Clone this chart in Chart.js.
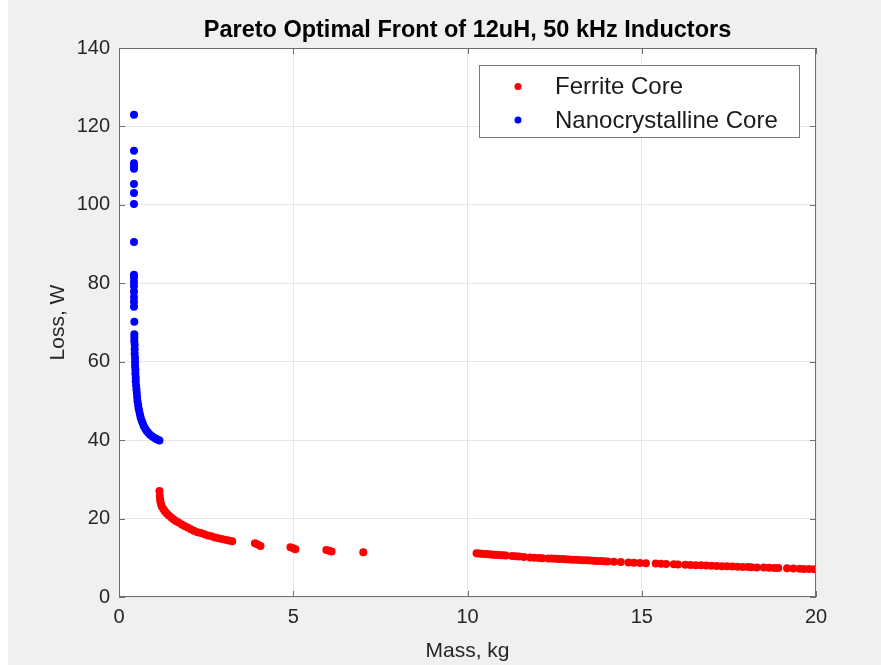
<!DOCTYPE html>
<html>
<head>
<meta charset="utf-8">
<title>Pareto Optimal Front of 12uH, 50 kHz Inductors</title>
<script src="https://cdn.jsdelivr.net/npm/chart.js@4.4.0/dist/chart.umd.min.js"></script>
<style>
  html, body { margin: 0; padding: 0; background: #ffffff; }
  #grafico { display: block; }
</style>
</head>
<body>
<canvas id="grafico" width="881" height="665"></canvas>
<script>
// dados (massa em kg, perda em W)
const ferriteMassa = [
  1.16, 1.17, 1.18, 1.19, 1.21, 1.24, 1.28, 1.32, 1.37, 1.43, 1.50, 1.56, 1.63, 1.71, 1.80, 1.88,
  1.97, 2.06, 2.15, 2.25, 2.35, 2.45, 2.55, 2.65, 2.75, 2.85, 2.95, 3.05, 3.15, 3.25,
  3.90, 3.98, 4.06, 4.92, 5.00, 5.06, 5.95, 6.03, 6.10, 7.01,
  10.26, 10.33, 10.40, 10.47, 10.54, 10.61, 10.68, 10.75, 10.82, 10.89, 10.96, 11.03, 11.10,
  11.28, 11.38, 11.48, 11.62, 11.80, 11.92, 12.05, 12.15,
  12.32, 12.42, 12.52, 12.62, 12.72, 12.82, 12.92, 13.02, 13.12, 13.22, 13.32, 13.42, 13.52,
  13.62, 13.72, 13.82, 13.92, 14.02, 14.20, 14.40, 14.62, 14.78, 14.95, 15.12, 15.40, 15.55,
  15.70, 15.92, 16.04, 16.25, 16.40, 16.55, 16.70, 16.85, 17.00, 17.15, 17.30, 17.45, 17.60,
  17.75, 17.90, 18.05, 18.15, 18.30, 18.50, 18.65, 18.80, 18.92, 19.17, 19.35, 19.53, 19.65,
  19.80, 19.95
];
const ferritePerda = [
  27.0, 25.8, 24.9, 24.2, 23.5, 22.9, 22.3, 21.8, 21.3, 20.8, 20.3, 19.8, 19.4, 19.0, 18.5, 18.1,
  17.7, 17.3, 16.9, 16.5, 16.3, 16.0, 15.7, 15.5, 15.2, 15.0, 14.8, 14.6, 14.4, 14.2,
  13.7, 13.4, 13.0, 12.7, 12.4, 12.2, 12.0, 11.8, 11.6, 11.4,
  11.14, 11.09, 11.04, 10.99, 10.94, 10.89, 10.84, 10.80, 10.75, 10.71, 10.66, 10.62, 10.57,
  10.46, 10.39, 10.32, 10.22, 10.09, 10.02, 9.96, 9.91,
  9.84, 9.79, 9.75, 9.70, 9.66, 9.61, 9.57, 9.52, 9.48, 9.43, 9.39, 9.34, 9.30,
  9.25, 9.21, 9.17, 9.12, 9.08, 9.00, 8.91, 8.81, 8.74, 8.68, 8.62, 8.52, 8.47,
  8.42, 8.34, 8.30, 8.23, 8.18, 8.12, 8.07, 8.02, 7.97, 7.91, 7.86, 7.81, 7.75,
  7.72, 7.67, 7.63, 7.60, 7.55, 7.50, 7.45, 7.41, 7.37, 7.30, 7.24, 7.19, 7.15,
  7.11, 7.06
];
const nanoMassa = [
  0.43, 0.43, 0.43, 0.43, 0.43, 0.43, 0.43, 0.43, 0.43, 0.43, 0.43, 0.43, 0.43, 0.43, 0.43,
  0.43, 0.43, 0.44, 0.44, 0.44, 0.44, 0.45, 0.45, 0.45, 0.46, 0.46, 0.46, 0.47, 0.47, 0.48,
  0.48, 0.49, 0.50, 0.51, 0.52, 0.53, 0.55, 0.56, 0.58, 0.60, 0.62, 0.65, 0.68, 0.71, 0.75,
  0.79, 0.84, 0.89, 0.95, 1.01, 1.07, 1.12, 1.16
];
const nanoPerda = [
  123.0, 113.8, 110.6, 109.8, 109.2, 105.3, 103.0, 100.2, 90.5, 82.2, 81.5, 80.4, 79.3, 77.9, 76.5,
  75.3, 74.0, 70.2, 67.0, 66.2, 65.2, 64.3, 63.2, 62.0, 61.0, 60.0, 59.0, 58.0, 57.0, 56.0,
  55.0, 54.0, 53.0, 52.0, 51.0, 50.0, 49.0, 48.2, 47.4, 46.6, 45.8, 45.0, 44.3, 43.6, 43.0,
  42.4, 41.9, 41.4, 41.0, 40.6, 40.3, 40.1, 39.9
];
const nomesSeries = ['Ferrite Core', 'Nanocrystalline Core'];
const coresSeries = ['#ff0000', '#0000ff'];
const ticksX = [0, 5, 10, 15, 20];
const ticksY = [0, 20, 40, 60, 80, 100, 120, 140];
const tituloGrafico = 'Pareto Optimal Front of 12uH, 50 kHz Inductors';

const fonte = "'Liberation Sans', Arial, Helvetica, sans-serif";

function montarPontos(xs, ys) {
  return xs.map((x, i) => ({ x: x, y: ys[i] }));
}

// fundo cinza da figura e area branca do grafico
const fundoPlugin = {
  id: 'fundo',
  beforeDraw(chart) {
    const ctx = chart.ctx;
    const a = chart.chartArea;
    ctx.save();
    ctx.fillStyle = '#f0f0f0';
    ctx.fillRect(8, 0, chart.width - 8, chart.height);
    ctx.fillStyle = '#ffffff';
    ctx.fillRect(a.left, a.top, a.right - a.left, a.bottom - a.top);
    ctx.restore();
  }
};

// caixa dos eixos, marcas para dentro, titulo centrado nos eixos e legenda com borda
const molduraPlugin = {
  id: 'moldura',
  afterDraw(chart) {
    const ctx = chart.ctx;
    const a = chart.chartArea;
    const sx = chart.scales.x;
    const sy = chart.scales.y;
    ctx.save();
    ctx.strokeStyle = '#6e6e6e';
    ctx.lineWidth = 1;
    ctx.strokeRect(a.left + 0.5, a.top + 0.5, a.right - a.left - 1, a.bottom - a.top - 1);
    ctx.beginPath();
    ticksX.forEach(v => {
      const px = Math.round(sx.getPixelForValue(v)) + 0.5;
      ctx.moveTo(px, a.bottom); ctx.lineTo(px, a.bottom - 6);
      ctx.moveTo(px, a.top); ctx.lineTo(px, a.top + 6);
    });
    ticksY.forEach(v => {
      const py = Math.round(sy.getPixelForValue(v)) + 0.5;
      ctx.moveTo(a.left, py); ctx.lineTo(a.left + 6, py);
      ctx.moveTo(a.right, py); ctx.lineTo(a.right - 6, py);
    });
    ctx.stroke();

    // titulo
    ctx.fillStyle = '#000000';
    ctx.font = 'bold 23.5px ' + fonte;
    ctx.textAlign = 'center';
    ctx.textBaseline = 'middle';
    ctx.fillText(tituloGrafico, (a.left + a.right) / 2, 31);

    // legenda
    const lx = 479, ly = 65, lw = 320, lh = 72;
    ctx.fillStyle = '#ffffff';
    ctx.fillRect(lx, ly, lw, lh);
    ctx.strokeStyle = '#7a7a7a';
    ctx.strokeRect(lx + 0.5, ly + 0.5, lw, lh);
    ctx.font = '24px ' + fonte;
    ctx.textBaseline = 'middle';
    ctx.textAlign = 'left';
    chart.data.datasets.forEach((ds, i) => {
      const yy = ly + 21.5 + i * 33.5;
      ctx.fillStyle = ds.backgroundColor;
      ctx.beginPath();
      ctx.arc(lx + 39, yy, 3.5, 0, Math.PI * 2);
      ctx.fill();
      ctx.fillStyle = '#1a1a1a';
      ctx.fillText(ds.label, lx + 76, yy + 1);
    });
    ctx.restore();
  }
};

const ctx = document.getElementById('grafico');

new Chart(ctx, {
  type: 'scatter',
  data: {
    datasets: [
      {
        label: nomesSeries[0],
        data: montarPontos(ferriteMassa, ferritePerda),
        backgroundColor: coresSeries[0],
        borderWidth: 0,
        pointRadius: 4
      },
      {
        label: nomesSeries[1],
        data: montarPontos(nanoMassa, nanoPerda),
        backgroundColor: coresSeries[1],
        borderWidth: 0,
        pointRadius: 4
      }
    ]
  },
  options: {
    responsive: false,
    animation: false,
    events: [],
    layout: { padding: { left: 0, right: 65, top: 48, bottom: 0 } },
    plugins: {
      legend: { display: false },
      tooltip: { enabled: false },
      title: { display: false }
    },
    scales: {
      x: {
        type: 'linear',
        min: 0,
        max: 20,
        afterBuildTicks: s => { s.ticks = ticksX.map(v => ({ value: v })); },
        afterFit: s => { s.height = 68; },
        grid: { color: '#e6e6e6', drawTicks: false, tickLength: 0 },
        border: { display: false },
        ticks: { color: '#262626', padding: 8, font: { family: fonte, size: 20 } },
        title: {
          display: true,
          text: 'Mass, kg',
          color: '#262626',
          font: { family: fonte, size: 21, lineHeight: 1.2 },
          padding: { top: 0, bottom: 1 }
        }
      },
      y: {
        type: 'linear',
        min: 0,
        max: 140,
        afterBuildTicks: s => { s.ticks = ticksY.map(v => ({ value: v })); },
        afterFit: s => { s.width = 119; },
        grid: { color: '#e6e6e6', drawTicks: false, tickLength: 0 },
        border: { display: false },
        ticks: { color: '#262626', padding: 9, font: { family: fonte, size: 20 } },
        title: {
          display: true,
          text: 'Loss, W',
          color: '#262626',
          font: { family: fonte, size: 21, lineHeight: 1.2 },
          padding: { top: 46, bottom: 0 }
        }
      }
    }
  },
  plugins: [fundoPlugin, molduraPlugin]
});
</script>
</body>
</html>
